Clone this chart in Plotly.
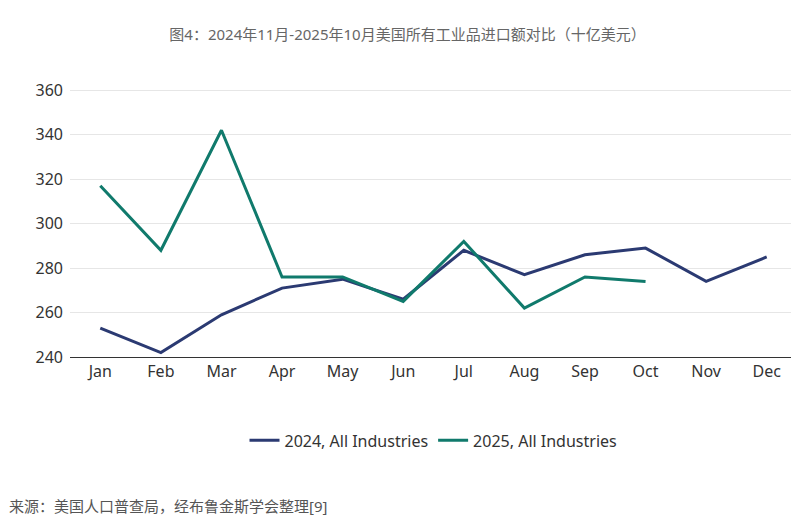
import plotly.graph_objects as go

months = ['Jan', 'Feb', 'Mar', 'Apr', 'May', 'Jun', 'Jul', 'Aug', 'Sep', 'Oct', 'Nov', 'Dec']
y2024 = [253, 242, 259, 271, 275, 266, 288, 277, 286, 289, 274, 285]
y2025 = [317, 288, 342, 276, 276, 265, 292, 262, 276, 274]

fig = go.Figure()
fig.add_trace(go.Scatter(x=months, y=y2024, mode='lines', name='2024, All Industries',
                         line=dict(color='#2b3a72', width=3)))
fig.add_trace(go.Scatter(x=months[:len(y2025)], y=y2025, mode='lines', name='2025, All Industries',
                         line=dict(color='#107a6c', width=3)))

fig.update_layout(
    width=799, height=518,
    paper_bgcolor='white', plot_bgcolor='white',
    margin=dict(l=62, r=10, t=80, b=169, autoexpand=False),
    font=dict(family='Noto Sans, Noto Sans CJK SC', color='#333333', size=16),
    title=dict(text='图4：2024年11月-2025年10月美国所有工业品进口额对比（十亿美元）',
               x=0.5, xanchor='center', y=0.948, yanchor='middle', font=dict(size=15, color='#666666')),
    legend=dict(orientation='h', x=0.5, xanchor='center', y=-0.31, yanchor='middle',
                font=dict(size=16, color='#333333')),
    annotations=[dict(text='来源：美国人口普查局，经布鲁金斯学会整理[9]', xref='paper', yref='paper',
                      x=-0.086, y=-0.555, xanchor='left', yanchor='middle', showarrow=False,
                      font=dict(size=15, color='#555555'))],
)
fig.update_xaxes(showgrid=False, showline=True, linecolor='#333333', linewidth=1,
                 ticks='', range=[-0.5, 11.5], automargin=False)
fig.update_yaxes(range=[240, 361], dtick=20, gridcolor='#e6e6e6', zeroline=False,
                 ticks='', ticklabelstandoff=6, automargin=False)

fig.write_html("out.html")
